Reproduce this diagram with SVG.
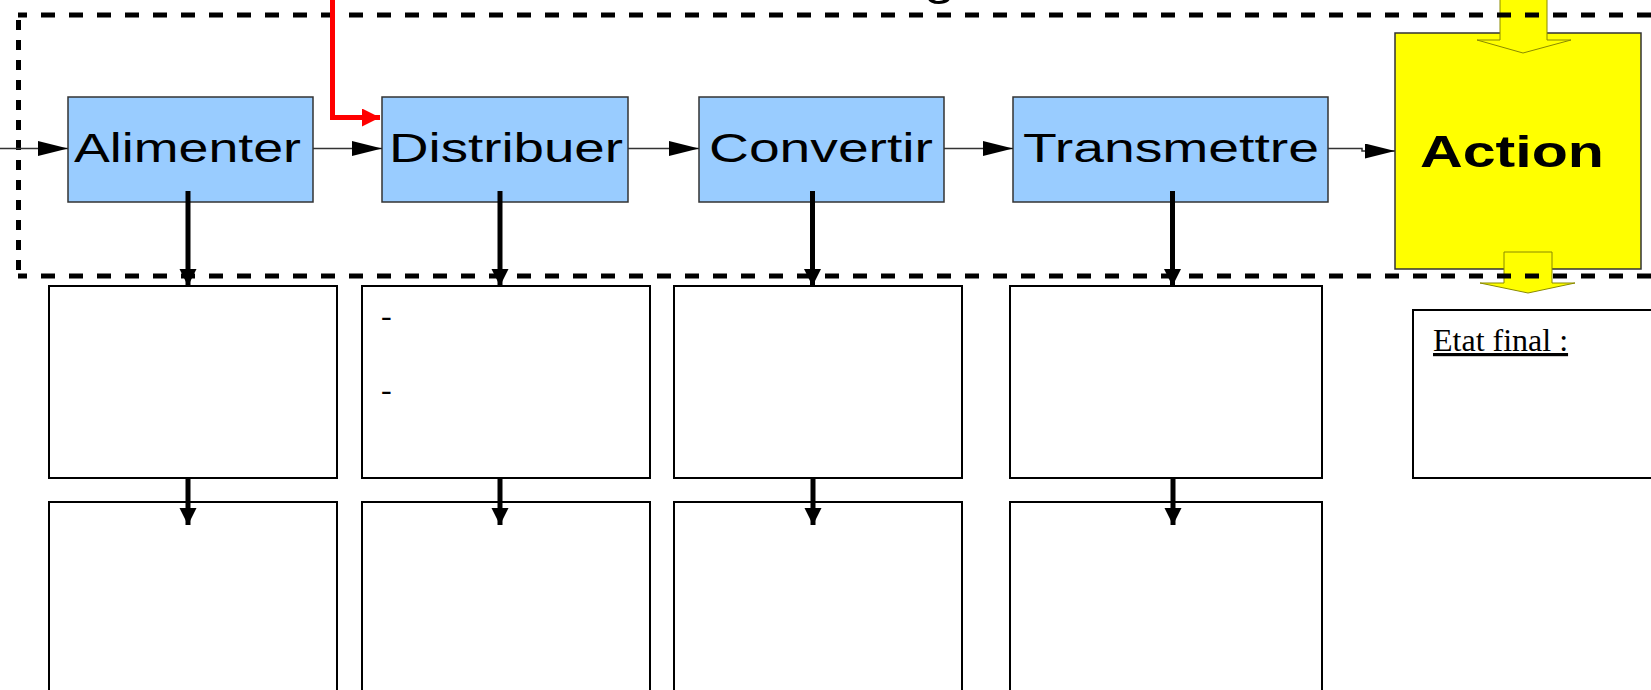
<svg xmlns="http://www.w3.org/2000/svg" width="1651" height="690" viewBox="0 0 1651 690">
<style>
.blue{fill:#99ccff;stroke:#333333;stroke-width:1.5}
.lbl{font-family:"Liberation Sans",Arial,sans-serif;font-size:40.5px;fill:#000}
.box{fill:#ffffff;stroke:#000;stroke-width:2}
.thin{fill:none;stroke:#333333;stroke-width:1.5}
.thick{fill:none;stroke:#000;stroke-width:5}
.dash{fill:none;stroke:#000;stroke-width:5}
.yarrow{fill:#ffff00;stroke:#8a8a00;stroke-width:1}
.serif{font-family:"Liberation Serif","Times New Roman",serif;font-size:32px;fill:#000}
</style>
<defs>
<marker id="ah" markerUnits="userSpaceOnUse" markerWidth="31" markerHeight="16" refX="30" refY="7.5" orient="auto">
<path d="M0,0 L30,7.5 L0,15 z" fill="#000"/>
</marker>
<marker id="ahb" markerUnits="userSpaceOnUse" markerWidth="18" markerHeight="18" refX="17" refY="8.5" orient="auto">
<path d="M0,0 L17,8.5 L0,17 z" fill="#000"/>
</marker>
<marker id="ahr" markerUnits="userSpaceOnUse" markerWidth="19" markerHeight="19" refX="18" refY="9" orient="auto">
<path d="M0,0 L18,9 L0,18 z" fill="#ff0000"/>
</marker>
</defs>
<rect width="1651" height="690" fill="#ffffff"/>

<g id="title">
<text x="924" y="-5" font-family="Liberation Sans,Arial,sans-serif" font-size="44" textLength="31" lengthAdjust="spacingAndGlyphs">g</text>
</g>

<g id="action">
<rect x="1395" y="33" width="246" height="236" fill="#ffff00" stroke="#333333" stroke-width="1.5"/>
<text x="1420" y="167" font-family="Liberation Sans,Arial,sans-serif" font-weight="bold" font-size="44" textLength="184" lengthAdjust="spacingAndGlyphs">Action</text>
</g>

<g id="yellow-arrows">
<path class="yarrow" d="M1500,-2 H1547 V40 H1571 L1523,53 L1477,40 H1500 Z"/>
<path class="yarrow" d="M1504,252 H1552 V283 H1575 L1528,293 L1480,283 H1504 Z"/>
</g>

<g id="border">
<line class="dash" x1="18" y1="15" x2="1651" y2="15" stroke-dasharray="14 14" stroke-dashoffset="5"/>
<line class="dash" x1="18" y1="276" x2="1651" y2="276" stroke-dasharray="14 14" stroke-dashoffset="5"/>
<line class="dash" x1="18.5" y1="20" x2="18.5" y2="272" stroke-dasharray="10 10"/>
</g>

<g id="alimenter">
<rect class="blue" x="68" y="97" width="245" height="105"/>
<text class="lbl" x="74" y="162" textLength="227" lengthAdjust="spacingAndGlyphs">Alimenter</text>
</g>
<g id="distribuer">
<rect class="blue" x="382" y="97" width="246" height="105"/>
<text class="lbl" x="389" y="162" textLength="234" lengthAdjust="spacingAndGlyphs">Distribuer</text>
</g>
<g id="convertir">
<rect class="blue" x="699" y="97" width="245" height="105"/>
<text class="lbl" x="709" y="162" textLength="224" lengthAdjust="spacingAndGlyphs">Convertir</text>
</g>
<g id="transmettre">
<rect class="blue" x="1013" y="97" width="315" height="105"/>
<text class="lbl" x="1023" y="162" textLength="296" lengthAdjust="spacingAndGlyphs">Transmettre</text>
</g>

<g id="box-1a"><rect class="box" x="49" y="286" width="288" height="192"/></g>
<g id="box-2a"><rect class="box" x="362" y="286" width="288" height="192"/>
<text class="serif" x="381" y="326">-</text>
<text class="serif" x="381" y="400">-</text>
</g>
<g id="box-3a"><rect class="box" x="674" y="286" width="288" height="192"/></g>
<g id="box-4a"><rect class="box" x="1010" y="286" width="312" height="192"/></g>
<g id="etat-final"><rect class="box" x="1413" y="310" width="250" height="168"/>
<text class="serif" x="1433" y="351" font-size="31.5" text-decoration="underline">Etat final :</text>
</g>
<g id="box-1b"><rect class="box" x="49" y="502" width="288" height="200"/></g>
<g id="box-2b"><rect class="box" x="362" y="502" width="288" height="200"/></g>
<g id="box-3b"><rect class="box" x="674" y="502" width="288" height="200"/></g>
<g id="box-4b"><rect class="box" x="1010" y="502" width="312" height="200"/></g>

<g id="connectors">
<line class="thin" x1="0" y1="148.5" x2="68" y2="148.5" marker-end="url(#ah)"/>
<line class="thin" x1="313" y1="148.5" x2="382" y2="148.5" marker-end="url(#ah)"/>
<line class="thin" x1="628" y1="148.5" x2="699" y2="148.5" marker-end="url(#ah)"/>
<line class="thin" x1="944" y1="148.5" x2="1013" y2="148.5" marker-end="url(#ah)"/>
<path class="thin" d="M1328,148.5 H1362 V151 H1395" marker-end="url(#ah)"/>
<path d="M332.5,-5 V117.5 H380" fill="none" stroke="#ff0000" stroke-width="5" marker-end="url(#ahr)"/>
<line class="thick" x1="188" y1="191" x2="188" y2="286" marker-end="url(#ahb)"/>
<line class="thick" x1="500" y1="191" x2="500" y2="286" marker-end="url(#ahb)"/>
<line class="thick" x1="812.5" y1="191" x2="812.5" y2="286" marker-end="url(#ahb)"/>
<line class="thick" x1="1172.5" y1="191" x2="1172.5" y2="286" marker-end="url(#ahb)"/>
<line class="thick" x1="188" y1="478" x2="188" y2="525" marker-end="url(#ahb)"/>
<line class="thick" x1="500" y1="478" x2="500" y2="525" marker-end="url(#ahb)"/>
<line class="thick" x1="813" y1="478" x2="813" y2="525" marker-end="url(#ahb)"/>
<line class="thick" x1="1173" y1="478" x2="1173" y2="525" marker-end="url(#ahb)"/>
</g>
</svg>
